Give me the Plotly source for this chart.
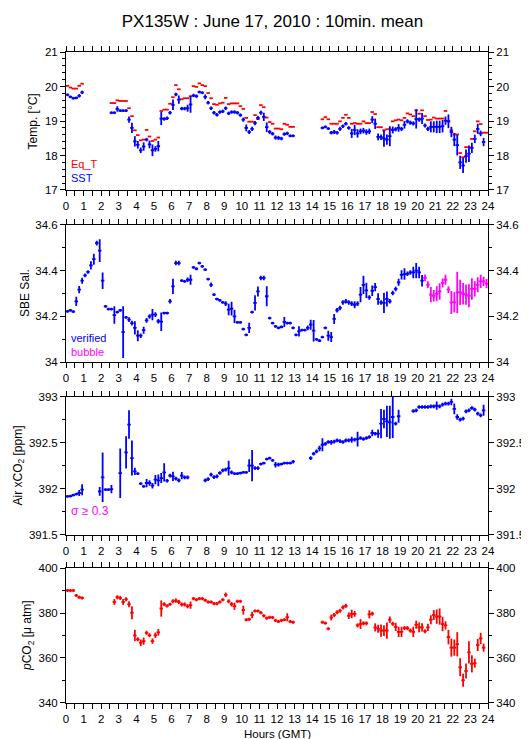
import plotly.graph_objects as go

N = None
# 10-minute means, 6 values per hour row (hour 0 .. 23)
eq_t = [
    20.02, 19.97, 19.94, 19.94, 20.02, 20.08,
    N, N, N, N, N, N,
    N, N, N, 19.52, 19.52, 19.60,
    19.58, 19.58, 19.58, 19.37, 19.14, 18.73,
    18.59, 18.44, 18.46, 18.74, 18.55, 18.42,
    18.46, 18.52, 19.29, 19.33, 19.33, 19.50,
    19.69, 20.04, 19.92, 19.63, 19.66, 19.66,
    19.72, 20.01, 19.99, 20.09, 20.04, 20.01,
    19.81, 19.66, 19.49, 19.47, 19.51, 19.53,
    19.67, 19.49, 19.51, 19.51, 19.51, 19.43,
    19.35, 19.09, 18.98, 18.98, 19.17, 19.06,
    19.46, 19.40, 19.10, 18.97, 18.92, 18.78,
    18.78, 18.76, 18.92, 18.89, 18.83, 18.83,
    N, N, N, N, N, N,
    N, N, N, 19.05, 19.11, 19.05,
    18.92, 18.92, 18.92, 18.99, 19.09, 19.18,
    19.09, 18.92, 18.94, 18.92, 18.92, 18.99,
    18.94, 18.94, 19.26, 19.20, 18.82, 18.82,
    18.73, 18.76, 18.76, 18.99, 19.02, 19.04,
    19.02, 19.09, 19.22, 19.19, 19.14, 19.31,
    19.21, 19.31, 19.14, 19.03, 19.04, 19.10,
    19.07, 19.07, 19.07, 19.29, 18.99, 18.73,
    18.61, 18.61, 18.07, 17.95, 18.24, 18.24,
    18.48, 18.70, 18.99, 18.91, 18.66, 18.66,
]
sst = [
    19.76, 19.70, 19.66, 19.67, 19.73, 19.83,
    N, N, N, N, N, N,
    N, N, N, 19.24, 19.24, 19.35,
    19.30, 19.30, 19.30, 19.04, 18.80, 18.41,
    18.31, 18.15, 18.26, 18.46, 18.32, 18.15,
    18.19, 18.27, 19.07, 19.06, 19.08, 19.24,
    19.47, 19.77, 19.62, 19.36, 19.36, 19.37,
    19.48, 19.74, 19.72, 19.84, 19.82, 19.70,
    19.53, 19.37, 19.24, 19.18, 19.26, 19.28,
    19.37, 19.22, 19.26, 19.26, 19.24, 19.17,
    19.04, 18.80, 18.68, 18.77, 18.94, 19.09,
    19.24, 19.12, 18.82, 18.68, 18.63, 18.52,
    18.51, 18.49, 18.62, 18.64, 18.57, 18.57,
    N, N, N, N, N, N,
    N, N, N, 18.80, 18.83, 18.78,
    18.66, 18.68, 18.66, 18.77, 18.85, 18.92,
    18.80, 18.64, 18.74, 18.64, 18.70, 18.72,
    18.68, 18.70, 19.04, 18.92, 18.54, 18.53,
    18.49, 18.46, 18.56, 18.74, 18.76, 18.80,
    18.77, 18.89, 18.99, 18.95, 18.93, 19.06,
    19.04, 19.07, 18.87, 18.77, 18.83, 18.83,
    18.83, 18.83, 18.85, 19.01, 18.99, 18.68,
    18.46, 18.30, 17.80, 17.71, 17.98, 18.05,
    18.22, 18.48, 18.77, 18.64, 18.39, N,
]
sst_sd = [
    0.04, 0.04, 0.04, 0.04, 0.05, 0.05,
    N, N, N, N, N, N,
    N, N, N, 0.04, 0.04, 0.08,
    0.04, 0.04, 0.04, 0.09, 0.15, 0.15,
    0.11, 0.08, 0.12, 0.05, 0.11, 0.17,
    0.08, 0.15, 0.19, 0.05, 0.05, 0.05,
    0.15, 0.05, 0.12, 0.05, 0.05, 0.10,
    0.24, 0.05, 0.05, 0.04, 0.04, 0.07,
    0.05, 0.05, 0.05, 0.05, 0.05, 0.05,
    0.05, 0.05, 0.05, 0.05, 0.05, 0.05,
    0.06, 0.10, 0.06, 0.06, 0.06, 0.06,
    0.06, 0.12, 0.14, 0.06, 0.05, 0.06,
    0.06, 0.05, 0.05, 0.05, 0.04, 0.04,
    N, N, N, N, N, N,
    N, N, N, 0.04, 0.04, 0.04,
    0.05, 0.06, 0.05, 0.06, 0.05, 0.05,
    0.05, 0.13, 0.15, 0.12, 0.08, 0.08,
    0.08, 0.08, 0.10, 0.15, 0.10, 0.08,
    0.24, 0.15, 0.29, 0.10, 0.06, 0.11,
    0.06, 0.11, 0.06, 0.06, 0.06, 0.28,
    0.06, 0.16, 0.06, 0.06, 0.16, 0.16,
    0.18, 0.18, 0.18, 0.12, 0.20, 0.15,
    0.19, 0.30, 0.19, 0.22, 0.19, 0.24,
    0.15, 0.12, 0.15, 0.08, 0.12, N,
]
sal = [
    34.222, 34.227, 34.221, 34.266, 34.317, 34.356,
    34.379, 34.394, 34.423, 34.450, 34.520, 34.487,
    34.356, 34.244, 34.232, 34.232, 34.206, 34.219,
    34.227, 34.132, 34.196, 34.186, 34.171, 34.150,
    34.116, 34.116, 34.140, 34.183, 34.200, 34.208,
    34.208, 34.179, 34.177, 34.215, 34.215, 34.266,
    34.331, 34.433, 34.433, 34.356, 34.353, 34.360,
    34.360, 34.414, 34.408, 34.433, 34.418, 34.404,
    34.363, 34.338, 34.295, 34.276, 34.270, 34.261,
    34.256, 34.230, 34.234, 34.200, 34.174, 34.174,
    34.145, 34.120, 34.150, 34.219, 34.259, 34.309,
    34.368, 34.368, 34.288, 34.193, 34.171, 34.157,
    34.150, 34.154, 34.176, 34.171, 34.171, 34.150,
    34.120, 34.135, 34.140, 34.140, 34.150, 34.164,
    34.138, 34.100, 34.094, 34.110, 34.150, 34.116,
    34.110, 34.189, 34.227, 34.237, 34.261, 34.266,
    34.261, 34.256, 34.251, 34.256, 34.295, 34.338,
    34.314, 34.283, 34.312, 34.328, 34.276, 34.261,
    34.259, 34.276, 34.266, 34.302, 34.320, 34.349,
    34.381, 34.385, 34.386, 34.392, 34.392, 34.400,
    34.392, 34.356, 34.368, 34.338, 34.295, 34.290,
    34.299, 34.309, 34.346, 34.360, 34.317, 34.261,
    34.261, 34.305, 34.305, 34.299, 34.295, 34.290,
    34.320, 34.320, 34.338, 34.353, 34.353, 34.343,
]
sal_sd = [
    0.006, 0.006, 0.006, 0.020, 0.016, 0.013,
    0.008, 0.008, 0.018, 0.024, 0.010, 0.050,
    0.036, 0.006, 0.006, 0.006, 0.038, 0.006,
    0.006, 0.113, 0.006, 0.010, 0.010, 0.029,
    0.024, 0.010, 0.015, 0.010, 0.010, 0.025,
    0.010, 0.010, 0.040, 0.006, 0.006, 0.010,
    0.033, 0.010, 0.010, 0.006, 0.006, 0.010,
    0.022, 0.006, 0.006, 0.006, 0.006, 0.006,
    0.006, 0.010, 0.006, 0.006, 0.006, 0.006,
    0.010, 0.025, 0.030, 0.029, 0.006, 0.006,
    0.006, 0.006, 0.022, 0.006, 0.033, 0.022,
    0.010, 0.010, 0.044, 0.006, 0.006, 0.006,
    0.006, 0.006, 0.022, 0.006, 0.006, 0.006,
    0.006, 0.022, 0.006, 0.006, 0.010, 0.022,
    0.047, 0.006, 0.006, 0.006, 0.006, 0.022,
    0.022, 0.022, 0.010, 0.010, 0.010, 0.010,
    0.010, 0.010, 0.015, 0.010, 0.033, 0.040,
    0.033, 0.010, 0.023, 0.018, 0.025, 0.010,
    0.044, 0.033, 0.010, 0.010, 0.010, 0.015,
    0.020, 0.025, 0.010, 0.010, 0.025, 0.033,
    0.025, 0.025, 0.015, 0.015, 0.033, 0.025,
    0.033, 0.036, 0.020, 0.022, 0.015, 0.050,
    0.044, 0.090, 0.055, 0.047, 0.044, 0.050,
    0.047, 0.033, 0.033, 0.029, 0.020, 0.020,
]
# quality flag per 10-min value: v = verified, b = bubble
sal_flag = ("vvvvvv" * 20) + "vvbbbb" + "bbbbbb" + "bbbbbb" + "bbbbbb"

air = [
    391.918, 391.921, 391.932, 391.943, 391.954, 391.990,
    N, N, N, N, N, 391.972,
    392.125, 391.990, 391.990, 391.997, N, N,
    392.170, N, 392.397, 392.700, 392.335, 392.190,
    392.165, 392.056, 392.027, 392.063, 392.063, 392.034,
    392.100, 392.092, 392.117, 392.179, 392.088, 392.143,
    392.135, 392.110, 392.092, 392.143, 392.125, 392.125,
    N, N, N, N, N, 392.092,
    392.106, 392.154, 392.128, 392.135, 392.172, 392.200,
    392.208, 392.226, 392.179, 392.165, 392.165, 392.172,
    392.179, 392.179, 392.252, 392.252, 392.226, 392.226,
    392.270, 392.280, 392.324, 392.335, 392.310, 392.263,
    392.263, 392.270, 392.280, 392.280, 392.280, 392.295,
    N, N, N, N, N, 392.335,
    392.382, 392.408, 392.440, 392.480, 392.490, 392.510,
    392.506, 392.513, 392.528, 392.520, 392.510, 392.528,
    392.528, 392.535, 392.535, 392.542, 392.553, 392.542,
    392.553, 392.564, 392.608, 392.600, 392.600, 392.710,
    392.760, 392.735, 392.724, 392.782, 392.710, 392.790,
    N, N, N, N, 392.847, 392.855,
    392.891, 392.891, 392.891, 392.891, 392.898, 392.898,
    392.906, 392.898, 392.916, 392.927, 392.927, 392.946,
    392.870, 392.782, 392.753, 392.764, 392.844, 392.855,
    392.880, 392.862, 392.818, 392.800, 392.855, N,
]
air_sd = [
    0.015, 0.015, 0.015, 0.015, 0.033, 0.060,
    N, N, N, N, N, 0.047,
    0.270, 0.015, 0.015, 0.045, N, N,
    0.270, N, 0.175, 0.156, 0.190, 0.040,
    0.015, 0.015, 0.015, 0.045, 0.030, 0.030,
    0.050, 0.064, 0.055, 0.100, 0.020, 0.020,
    0.050, 0.020, 0.020, 0.040, 0.020, 0.020,
    N, N, N, N, N, 0.020,
    0.020, 0.020, 0.020, 0.020, 0.020, 0.020,
    0.020, 0.080, 0.020, 0.015, 0.015, 0.015,
    0.015, 0.015, 0.070, 0.170, 0.020, 0.020,
    0.015, 0.015, 0.015, 0.015, 0.015, 0.030,
    0.020, 0.015, 0.015, 0.015, 0.015, 0.020,
    N, N, N, N, N, 0.020,
    0.020, 0.020, 0.030, 0.070, 0.020, 0.020,
    0.025, 0.020, 0.020, 0.020, 0.020, 0.020,
    0.020, 0.033, 0.020, 0.080, 0.020, 0.020,
    0.020, 0.020, 0.036, 0.020, 0.045, 0.160,
    0.100, 0.170, 0.180, 0.230, 0.020, 0.070,
    N, N, N, N, 0.020, 0.020,
    0.020, 0.020, 0.020, 0.020, 0.020, 0.020,
    0.045, 0.020, 0.020, 0.020, 0.020, 0.036,
    0.058, 0.030, 0.020, 0.020, 0.020, 0.020,
    0.020, 0.020, 0.020, 0.020, 0.060, N,
]
pco2 = [
    390.0, 390.0, 390.0, 387.8, 387.0, 386.7,
    N, N, N, N, N, N,
    N, N, N, N, 384.9, 387.0,
    386.7, 384.9, 386.1, 383.9, 380.1, 370.0,
    368.3, 366.8, 367.5, 371.2, 370.1, 367.5,
    370.1, 371.4, 382.0, 383.9, 383.2, 383.9,
    385.2, 385.5, 384.9, 383.8, 383.8, 383.0,
    383.5, 386.4, 385.9, 386.4, 386.4, 385.7,
    384.9, 384.9, 384.2, 384.2, 384.9, 385.9,
    388.1, 385.2, 383.9, 383.0, 385.2, 385.2,
    381.3, 377.0, 377.2, 379.1, 380.9, 380.9,
    380.1, 378.8, 377.7, 378.1, 378.0, 376.7,
    376.2, 376.7, 377.0, 378.1, 376.2, 375.9,
    N, N, N, N, N, N,
    N, N, N, 375.9, 375.5, 373.0,
    378.0, 379.1, 380.3, 381.0, 382.5, 383.2,
    378.8, 379.6, 379.6, 374.5, 375.1, 375.4,
    375.4, 379.4, 379.7, 373.6, 373.0, 372.2,
    372.2, 372.2, 377.0, 375.2, 373.8, 371.6,
    371.6, 373.3, 373.3, 372.2, 371.6, 374.8,
    373.6, 373.6, 371.9, 373.6, 377.0, 379.1,
    378.4, 378.4, 375.1, 374.5, 369.3, 364.6,
    364.6, 366.1, 355.9, 350.1, 354.2, 362.5,
    357.4, 357.7, 365.8, 368.7, 364.6, N,
]
pco2_sd = [
    0.7, 0.7, 0.7, 0.7, 0.7, 0.7,
    N, N, N, N, N, N,
    N, N, N, N, 1.3, 0.9,
    0.9, 1.3, 0.9, 1.3, 2.9, 2.5,
    0.9, 1.45, 1.6, 0.9, 0.9, 1.2,
    1.2, 1.45, 3.6, 0.9, 0.7, 0.7,
    0.9, 0.9, 0.9, 0.9, 0.9, 0.9,
    1.6, 0.7, 0.7, 0.7, 0.7, 0.7,
    0.7, 0.7, 0.7, 0.7, 0.7, 0.7,
    1.0, 0.9, 1.0, 1.6, 0.7, 0.7,
    2.0, 0.7, 0.7, 1.45, 0.7, 0.7,
    0.7, 0.7, 0.7, 0.7, 0.7, 0.7,
    0.7, 0.7, 0.7, 1.8, 0.7, 0.7,
    N, N, N, N, N, N,
    N, N, N, 0.7, 0.7, 0.7,
    1.3, 0.9, 0.9, 0.9, 0.9, 0.9,
    1.45, 1.9, 1.3, 0.9, 2.2, 0.9,
    0.9, 1.8, 0.9, 1.8, 1.8, 2.7,
    2.4, 3.6, 1.45, 0.9, 1.8, 2.3,
    2.3, 0.9, 0.9, 0.9, 2.3, 1.8,
    2.2, 1.8, 0.9, 1.6, 2.0, 2.2,
    3.2, 3.6, 3.2, 1.8, 3.2, 4.0,
    3.6, 5.4, 4.0, 2.9, 3.3, 4.9,
    3.8, 2.0, 2.7, 2.5, 1.8, N,
]

# time of each 10-minute bin centre (hours, GMT)
hours = [(i + 0.5) / 6 for i in range(len(eq_t))]
BAR_HALF = 0.1  # half-width of the horizontal stroke drawn for each 10-min mean

BLUE, RED, MAG = "#0000FF", "#FF0000", "#FF00FF"
FONT = "Liberation Sans, Arial, Helvetica, sans-serif"

fig = go.Figure()


def add_series(y, sd, color, ax):
    xa, ya = ax
    fig.add_trace(go.Scatter(
        x=hours, y=y, mode="markers",
        marker=dict(size=1, color=color, opacity=0),
        xaxis=xa, yaxis=ya, showlegend=False, hoverinfo="skip",
        error_x=dict(type="constant", value=BAR_HALF, color=color,
                     thickness=1.8, width=0),
        error_y=(dict(type="data", array=sd, color=color, thickness=1.8, width=0)
                 if sd is not None else dict(visible=False)),
    ))


add_series(eq_t, None, RED, ("x", "y"))
add_series(sst, sst_sd, BLUE, ("x", "y"))

sal_v = [v if f == "v" else None for v, f in zip(sal, sal_flag)]
sal_b = [v if f == "b" else None for v, f in zip(sal, sal_flag)]
add_series(sal_v, sal_sd, BLUE, ("x2", "y2"))
add_series(sal_b, sal_sd, MAG, ("x2", "y2"))
add_series(air, air_sd, BLUE, ("x3", "y3"))
add_series(pco2, pco2_sd, RED, ("x4", "y4"))

# panel geometry (paper fractions)
domains = [[0.789, 1.0], [0.5255, 0.7359], [0.2619, 0.4725], [0.0046, 0.211]]
yspecs = [
    dict(range=[16.999, 21.001], tickvals=[17, 18, 19, 20, 21], minor=0.2),
    dict(range=[33.9999, 34.6001], tickvals=[34, 34.2, 34.4, 34.6],
         ticktext=["34", "34.2", "34.4", "34.6"], minor=0.1),
    dict(range=[391.4999, 393.0001], tickvals=[391.5, 392, 392.5, 393], minor=0.25),
    dict(range=[339.99, 400.01], tickvals=[340, 360, 380, 400], minor=10),
]

tickfont = dict(family=FONT, size=11.5, color="black")
layout = dict(
    width=529, height=739,
    margin=dict(l=58, r=43, t=44, b=41),
    paper_bgcolor="white", plot_bgcolor="white",
    showlegend=False,
    font=dict(family=FONT, color="black"),
    title=dict(text="PX135W : June 17, 2010 : 10min. mean", x=0.5, xref="container",
               y=1 - 13 / 739, yref="container", yanchor="middle", xanchor="center",
               font=dict(family=FONT, size=17, color="black")),
)

for k in range(4):
    sx = "" if k == 0 else str(k + 1)
    layout["xaxis" + sx] = dict(
        domain=[0, 1], range=[0, 24], anchor="y" + sx,
        tickmode="linear", tick0=0, dtick=1,
        ticks="outside", ticklen=5, tickwidth=1, tickcolor="black",
        minor=dict(dtick=0.5, tick0=0, ticks="outside", ticklen=3, tickwidth=1, tickcolor="black"),
        showline=True, linecolor="black", linewidth=1, mirror="allticks",
        showgrid=False, zeroline=False, tickfont=tickfont,
    )
    spec = yspecs[k]
    common = dict(
        domain=domains[k], range=spec["range"], tickmode="array",
        tickvals=spec["tickvals"],
        ticks="outside", ticklen=5, tickwidth=1, tickcolor="black",
        minor=dict(dtick=spec["minor"], tick0=spec["tickvals"][0], ticks="outside",
                   ticklen=3, tickwidth=1, tickcolor="black"),
        showline=True, linecolor="black", linewidth=1,
        showgrid=False, zeroline=False, tickfont=tickfont,
    )
    if "ticktext" in spec:
        common["ticktext"] = spec["ticktext"]
    layout["yaxis" + sx] = dict(common, anchor="x" + sx, side="left")
    layout["yaxis" + str(k + 5)] = dict(common, anchor="x" + sx, side="right",
                                        overlaying="y" + sx)
    fig.add_trace(go.Scatter(x=[None], y=[None], xaxis="x" + sx, yaxis="y" + str(k + 5),
                             mode="markers", showlegend=False, hoverinfo="skip"))

fig.update_layout(**layout)


def px_x(px):
    return (px - 58) / 428


ann = []
# axis titles
for text, xpx, dom in [
    ("Temp. [°C]", 25, domains[0]),
    ("SBE Sal.", 16, domains[1]),
    ("Air xCO<sub>2</sub> [ppm]", 10, domains[2]),
    ("<i>p</i>CO<sub>2</sub> [μ atm]", 20, domains[3]),
]:
    ann.append(dict(text=text, x=px_x(xpx), y=(dom[0] + dom[1]) / 2, xref="paper", yref="paper",
                    textangle=-90, showarrow=False, xanchor="center", yanchor="middle",
                    font=dict(family=FONT, size=12, color="black")))
# x title
ann.append(dict(text="Hours (GMT)", x=0.5, y=-27.5 / 654, xref="paper", yref="paper",
                showarrow=False, xanchor="center", yanchor="middle",
                font=dict(family=FONT, size=11.5, color="black")))
# in-panel legends (two coloured lines in one block)
for line1, c1, line2, c2, xr, yr, yf in [
    ("Eq_T", RED, "SST", BLUE, "x domain", "y domain", 0.03),
    ("verified", BLUE, "bubble", MAG, "x2 domain", "y2 domain", 0.02),
]:
    ann.append(dict(
        text=f"<span style='color:{c1}'>{line1}</span><br><span style='color:{c2}'>{line2}</span>",
        x=0.007, y=yf, xref=xr, yref=yr, showarrow=False, align="left",
        xanchor="left", yanchor="bottom", font=dict(family=FONT, size=11, color=c1)))
ann.append(dict(text="σ ≥ 0.3", x=0.007, y=0.172, xref="x3 domain", yref="y3 domain",
                showarrow=False, xanchor="left", yanchor="middle",
                font=dict(family=FONT, size=12, color=MAG)))
fig.update_layout(annotations=ann)

fig.write_html("out.html")
